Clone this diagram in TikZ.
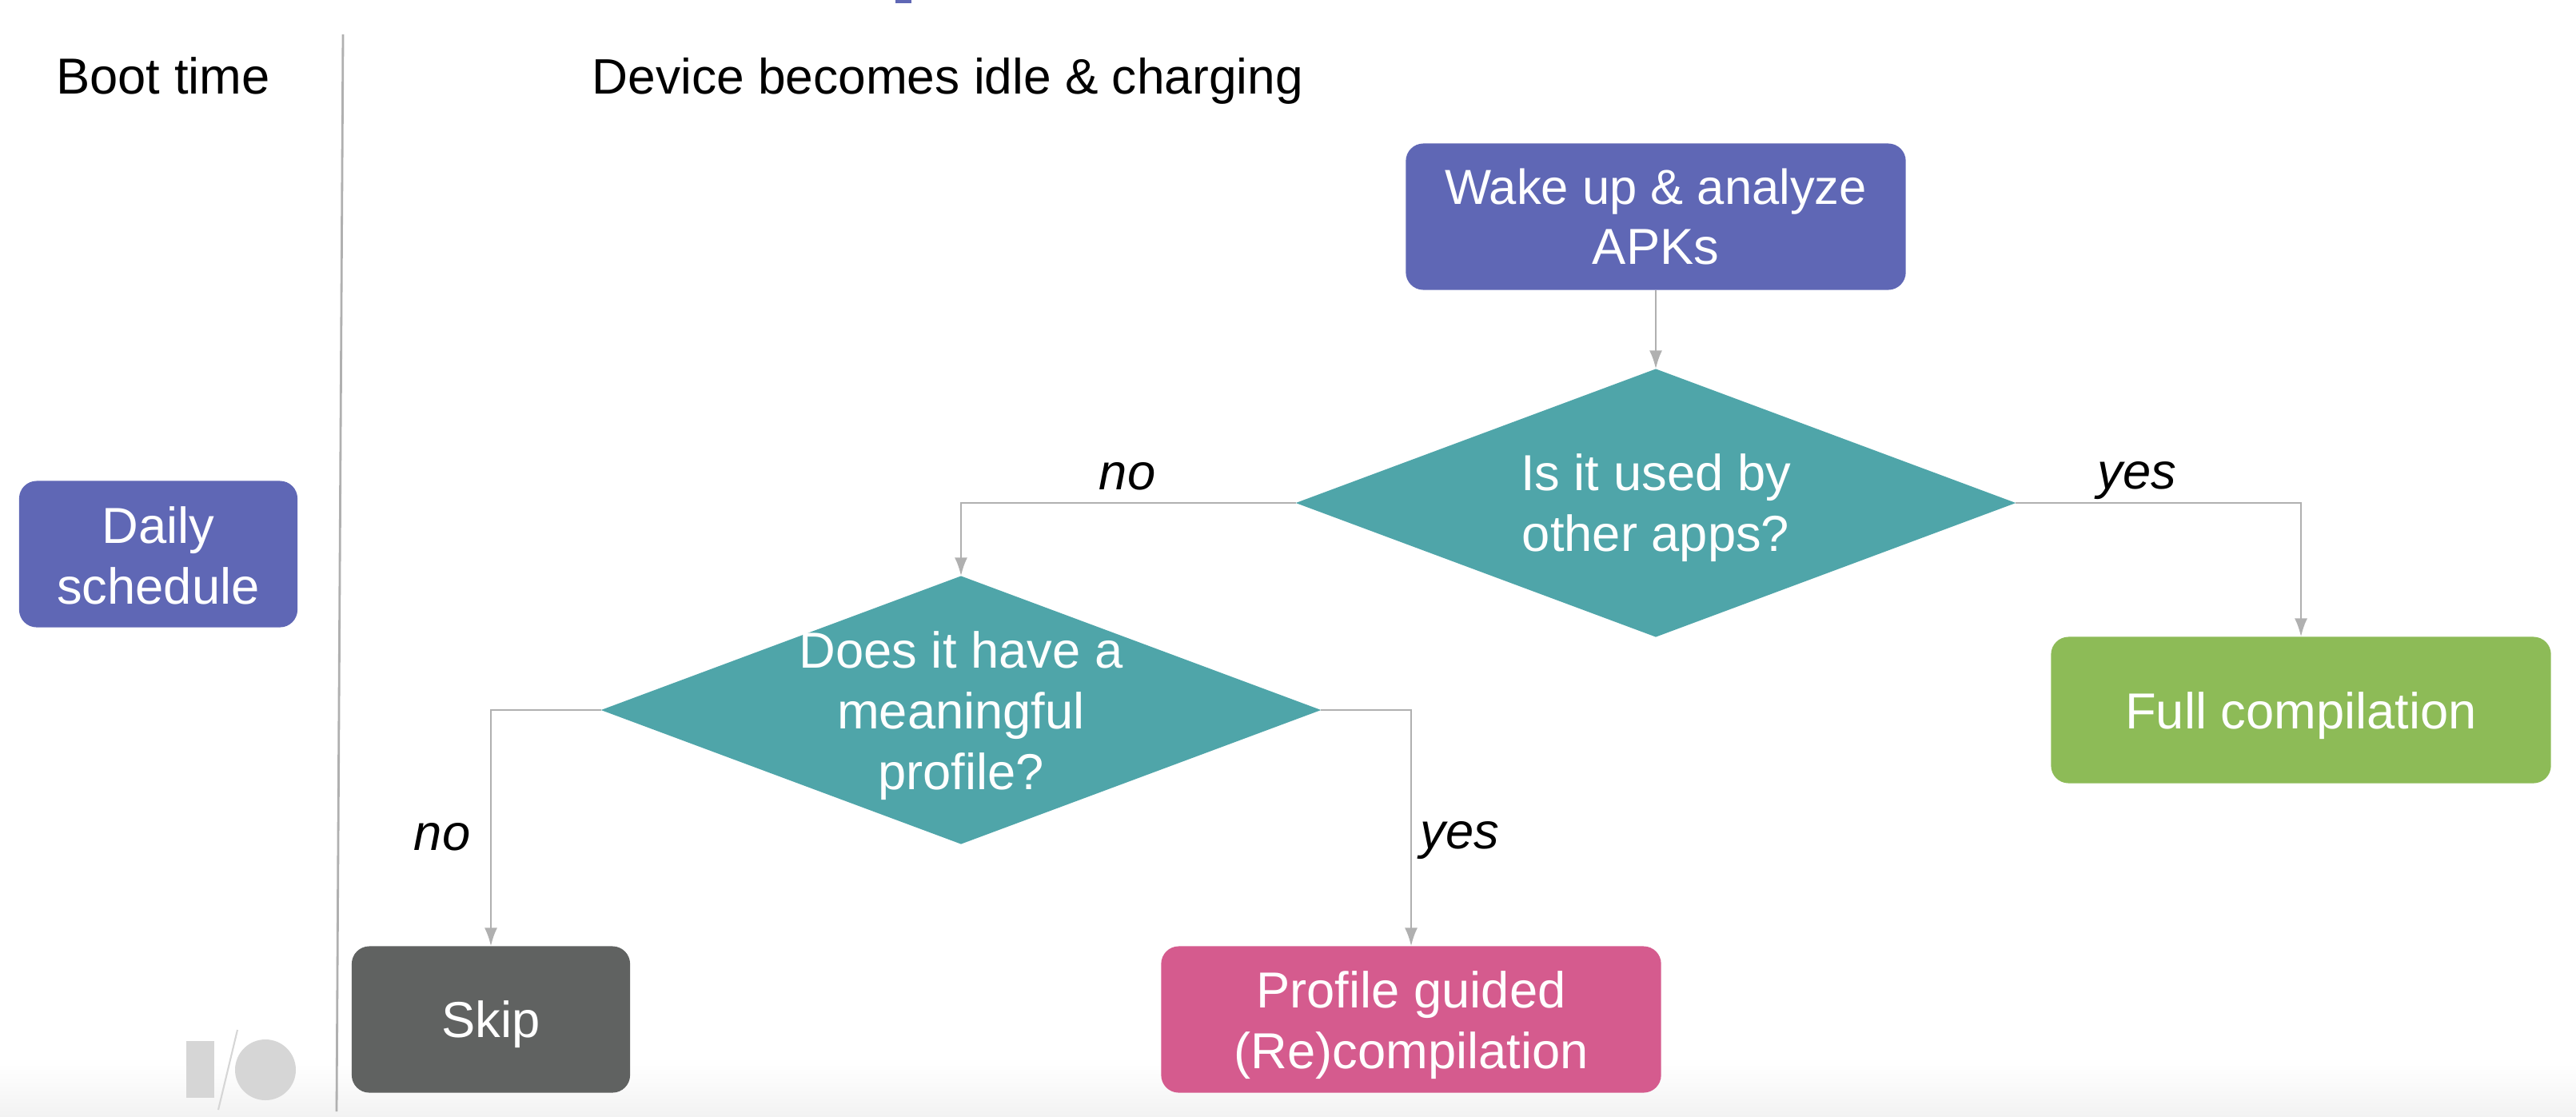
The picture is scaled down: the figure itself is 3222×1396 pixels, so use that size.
\documentclass[tikz,border=0pt]{standalone}
\usepackage{fontspec}
\setmainfont{Liberation Sans}
\usetikzlibrary{arrows.meta,shapes.geometric}
\definecolor{boxblue}{HTML}{5F67B5}
\definecolor{boxteal}{HTML}{4FA5A9}
\definecolor{boxgreen}{HTML}{8DBB57}
\definecolor{boxpink}{HTML}{D55B8E}
\definecolor{boxgray}{HTML}{606261}
\definecolor{linegray}{HTML}{B0B0B0}
\definecolor{logogray}{HTML}{D6D6D6}
\tikzset{
	textsize/.style={font=\fontsize{18}{21.6}\selectfont},
	inlabel/.style 2 args={label={[textsize,text=white,align=center,yshift=#1]center:#2}},
	box/.style={rectangle,rounded corners=0.22cm,inner sep=0pt,outer sep=0pt,minimum height=1.83cm},
	widebox/.style={box,minimum width=6.25cm},
	smallbox/.style={box,minimum width=3.48cm},
	decide/.style={diamond,fill=boxteal,inner sep=0pt,outer sep=0pt,minimum width=9cm,minimum height=3.35cm},
	flow/.style={draw=linegray,line width=0.8pt,-{Latex[length=0.23cm,width=0.16cm]}},
	answer/.style={font=\fontsize{18}{21.6}\selectfont\itshape}
}
\begin{document}
\begin{tikzpicture}[x=0.01cm,y=-0.01cm]
	% Bildausschnitt
	\useasboundingbox (0,0) rectangle (3222,1396);
	\shade[top color=white,bottom color=black!5] (0,1330) rectangle (3222,1396);
	\fill[boxblue] (1120,0) rectangle (1140,4);

	% Trennlinie und Logo
	\draw[linegray,line width=0.8pt] (429,43) -- (421,1390);
	\fill[logogray] (233,1302) rectangle (268,1373);
	\draw[logogray,line width=0.6pt] (297,1288) -- (273,1388);
	\fill[logogray] (332,1338) circle (38);

	% Spaltentitel
	\node[textsize,anchor=base] (boot) at (204,117) {Boot time};
	\node[font=\fontsize{17.7}{21.6}\selectfont,anchor=base west,inner sep=0pt] (device) at (740,117) {Device becomes idle \& charging};

	% Kästen
	\node[smallbox,fill=boxblue,inlabel={-0.02cm}{Daily\\schedule}] (daily) at (198,693) {};
	\node[widebox,fill=boxblue,inlabel={0cm}{\fontsize{17.5}{21.6}\selectfont Wake up \& analyze\\APKs}] (wake) at (2071,271) {};
	\node[widebox,fill=boxgreen,inlabel={-0.07cm}{Full compilation}] (full) at (2878,888) {};
	\node[smallbox,fill=boxgray,inlabel={-0.06cm}{Skip}] (skip) at (614,1275) {};
	\node[widebox,fill=boxpink,inlabel={-0.07cm}{Profile guided\\(Re)compilation}] (profile) at (1765,1275) {};

	% Entscheidungen
	\node[decide,inlabel={-0.06cm}{Is it used by\\other apps?}] (used) at (2071,629) {};
	\node[decide,inlabel={-0.07cm}{Does it have a\\meaningful\\profile?}] (meaningful) at (1202,888) {};

	% Pfeile
	\draw[flow] (wake) -- (used);
	\foreach \from/\side/\to in {used/west/meaningful,used/east/full,meaningful/west/skip,meaningful/east/profile} {
		\draw[flow] (\from.\side) -| (\to.north);
	}

	% Beschriftung der Pfeile
	\node[answer] (usedno) at (1410,596) {no};
	\node[answer] (usedyes) at (2673,601) {yes};
	\node[answer] (meanno) at (553,1047) {no};
	\node[answer] (meanyes) at (1826,1051) {yes};
\end{tikzpicture}
\end{document}
